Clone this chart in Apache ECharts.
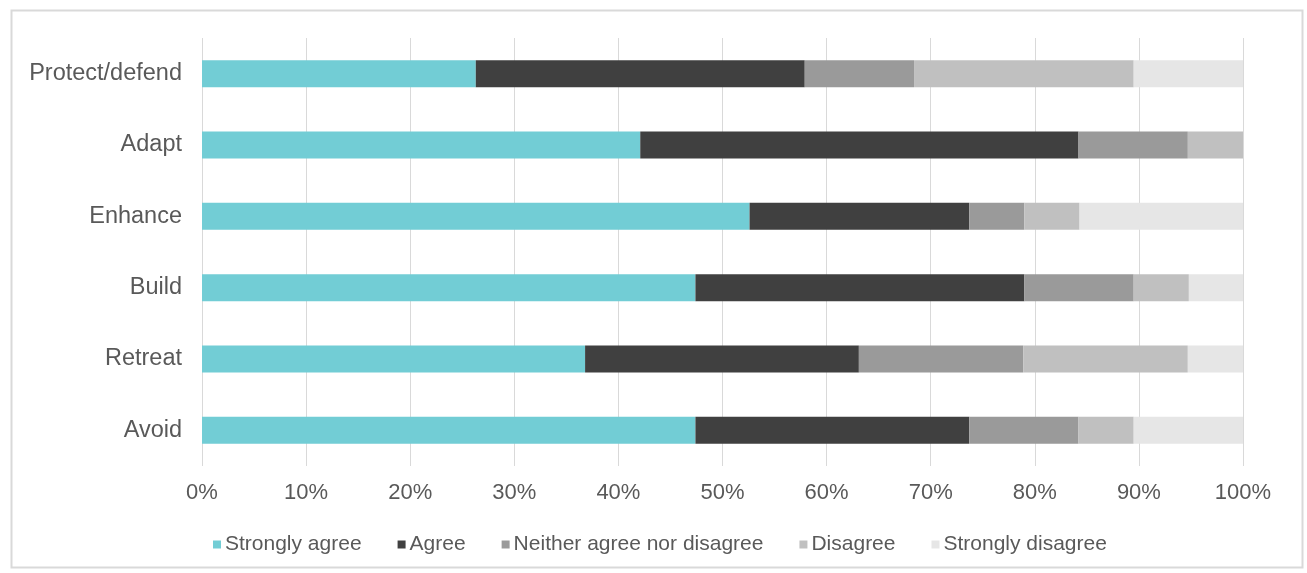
<!DOCTYPE html>
<html>
<head>
<meta charset="utf-8">
<script src="https://cdn.jsdelivr.net/npm/echarts@6/dist/echarts.min.js"></script>
<style>
html,body{margin:0;padding:0;background:#fff;}
#chart{width:1307px;height:573px;}
</style>
</head>
<body>
<div id="chart"></div>
<script>
const categories = ['Protect/defend', 'Adapt', 'Enhance', 'Build', 'Retreat', 'Avoid'];
const seriesNames = ['Strongly agree', 'Agree', 'Neither agree nor disagree', 'Disagree', 'Strongly disagree'];
const stronglyAgree = [26.3, 42.1, 52.6, 47.4, 36.8, 47.4];
const agree = [31.6, 42.1, 21.1, 31.6, 26.3, 26.3];
const neither = [10.5, 10.5, 5.3, 10.5, 15.8, 10.5];
const disagree = [21.1, 5.3, 5.3, 5.3, 15.8, 5.3];
const stronglyDisagree = [10.5, 0, 15.8, 5.3, 5.3, 10.5];
const colors = ['#72CDD5', '#404040', '#9A9A9A', '#C0C0C0', '#E6E6E6'];

const allData = [stronglyAgree, agree, neither, disagree, stronglyDisagree];
const chart = echarts.init(document.getElementById('chart'));
const font = '"Liberation Sans", Arial, sans-serif';
chart.setOption({
  animation: false,
  color: colors,
  textStyle: { fontFamily: font },
  graphic: [{
    type: 'rect', left: 9, top: 8, shape: { width: 1291, height: 557 },
    style: { fill: 'none', stroke: '#D9D9D9', lineWidth: 2 }, silent: true, z: -1
  }],
  grid: { left: 202, right: 64, top: 38, bottom: 107, containLabel: false },
  legend: {
    top: 529, left: 208,
    itemWidth: 8, itemHeight: 8, itemGap: 36,
    icon: 'rect',
    textStyle: { color: '#595959', fontSize: 21, fontFamily: font, padding: [0, 0, 0, -1] },
    data: seriesNames
  },
  xAxis: {
    type: 'value', min: 0, max: 100, interval: 10,
    axisLine: { show: false }, axisTick: { show: false },
    splitLine: { show: true, lineStyle: { color: '#D9D9D9', width: 1 } },
    axisLabel: { formatter: '{value}%', color: '#595959', fontSize: 22, margin: 16, fontFamily: font }
  },
  yAxis: {
    type: 'category', data: categories, inverse: true,
    axisLine: { show: false }, axisTick: { show: false },
    axisLabel: { color: '#595959', fontSize: 23.5, margin: 20, fontFamily: font }
  },
  series: seriesNames.map((n, i) => ({
    name: n, type: 'bar', stack: 'total', barWidth: 27,
    data: allData[i],
    itemStyle: { color: colors[i] }
  }))
});
</script>
</body>
</html>
